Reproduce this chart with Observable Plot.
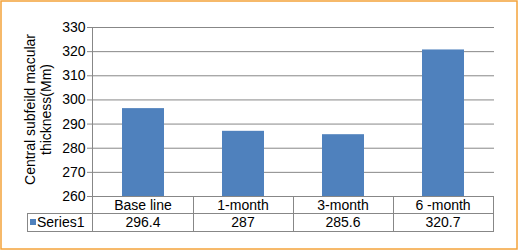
<!DOCTYPE html>
<html>
<head>
<meta charset="utf-8">
<script src="https://cdn.jsdelivr.net/npm/d3@7"></script>
<script src="https://cdn.jsdelivr.net/npm/@observablehq/plot@0.6"></script>
<style>
  html, body { margin: 0; padding: 0; background: #fff; }
  svg { display: block; }
</style>
</head>
<body>
<div id="chart"></div>
<script>
const categories = ["Base line", "1-month", "3-month", "6 -month"];
const values = [296.4, 287, 285.6, 320.7];
const valueLabels = ["296.4", "287", "285.6", "320.7"];
const seriesName = "Series1";
const yTicks = [260, 270, 280, 290, 300, 310, 320, 330];
const yTitle = ["Central subfeild macular", "thickness(Mm)"];

const data = categories.map((c, i) => ({cat: c, value: values[i], label: valueLabels[i]}));

const barColor = "#4F81BD";
const gridColor = "#878787";
const font = "Liberation Sans, Arial, sans-serif";
const fs = 14;

const chart = Plot.plot({
  width: 519,
  height: 252,
  marginLeft: 92,
  marginRight: 25,
  marginTop: 27,
  marginBottom: 56,
  style: {fontFamily: font, fontSize: fs + "px", color: "#000", background: "#fff"},
  x: {domain: categories, padding: 0, axis: null},
  y: {domain: [260, 330], ticks: yTicks, label: null},
  marks: [
    Plot.gridY(yTicks, {stroke: gridColor, strokeOpacity: 1, strokeWidth: 1}),
    Plot.barY(data, {x: "cat", y1: 260, y2: "value", fill: barColor, insetLeft: 29, insetRight: 29}),
    Plot.axisY(yTicks, {tickSize: 5, tickPadding: 2, fontSize: fs, stroke: gridColor, fill: "#000", label: null, tickFormat: d => String(d)})
  ]
});

document.getElementById("chart").appendChild(chart);

const svg = d3.select(chart);
const x = chart.scale("x");
const y = chart.scale("y");
const left = x.range[0];
const right = x.range[1];
const yBase = y.apply(260);
const row1Bottom = yBase + 17;
const row2Bottom = row1Bottom + 18;
const tableLeft = 27;

const g = svg.append("g").attr("stroke", gridColor).attr("stroke-width", 1).attr("shape-rendering", "crispEdges");
g.append("line").attr("x1", left).attr("x2", left).attr("y1", y.apply(330)).attr("y2", row2Bottom);
g.append("line").attr("x1", tableLeft).attr("x2", right).attr("y1", row1Bottom).attr("y2", row1Bottom);
g.append("line").attr("x1", tableLeft).attr("x2", right).attr("y1", row2Bottom).attr("y2", row2Bottom);
g.append("line").attr("x1", tableLeft).attr("x2", tableLeft).attr("y1", row1Bottom).attr("y2", row2Bottom);
categories.forEach(c => {
  const xe = x.apply(c) + x.bandwidth;
  g.append("line").attr("x1", xe).attr("x2", xe).attr("y1", yBase).attr("y2", row2Bottom);
});

const t = svg.append("g").attr("font-family", font).attr("font-size", fs).attr("fill", "#000").attr("text-anchor", "middle");
data.forEach(d => {
  const cx = x.apply(d.cat) + x.bandwidth / 2;
  t.append("text").attr("x", cx).attr("y", (yBase + row1Bottom) / 2).attr("dy", "0.36em").text(d.cat);
  t.append("text").attr("x", cx).attr("y", (row1Bottom + row2Bottom) / 2).attr("dy", "0.36em").text(d.label);
});
svg.append("rect").attr("x", 30).attr("y", (row1Bottom + row2Bottom) / 2 - 3).attr("width", 6).attr("height", 6).attr("fill", barColor);
svg.append("text").attr("x", 37).attr("y", (row1Bottom + row2Bottom) / 2).attr("dy", "0.36em")
  .attr("text-anchor", "start")
  .attr("font-family", font).attr("font-size", fs).attr("fill", "#000").text(seriesName);

const midY = (y.apply(330) + yBase) / 2 - 2;
const title = svg.append("text").attr("transform", `translate(0,${midY}) rotate(-90)`)
  .attr("font-family", font).attr("font-size", fs).attr("fill", "#000").attr("text-anchor", "middle");
title.append("tspan").attr("x", 0).attr("y", 35).text(yTitle[0]);
title.append("tspan").attr("x", 0).attr("y", 51).text(yTitle[1]);

svg.append("rect").attr("x", 1).attr("y", 1).attr("width", 516).attr("height", 248)
  .attr("fill", "none").attr("stroke", "#F4A33A").attr("stroke-width", 1.5);
</script>
</body>
</html>
